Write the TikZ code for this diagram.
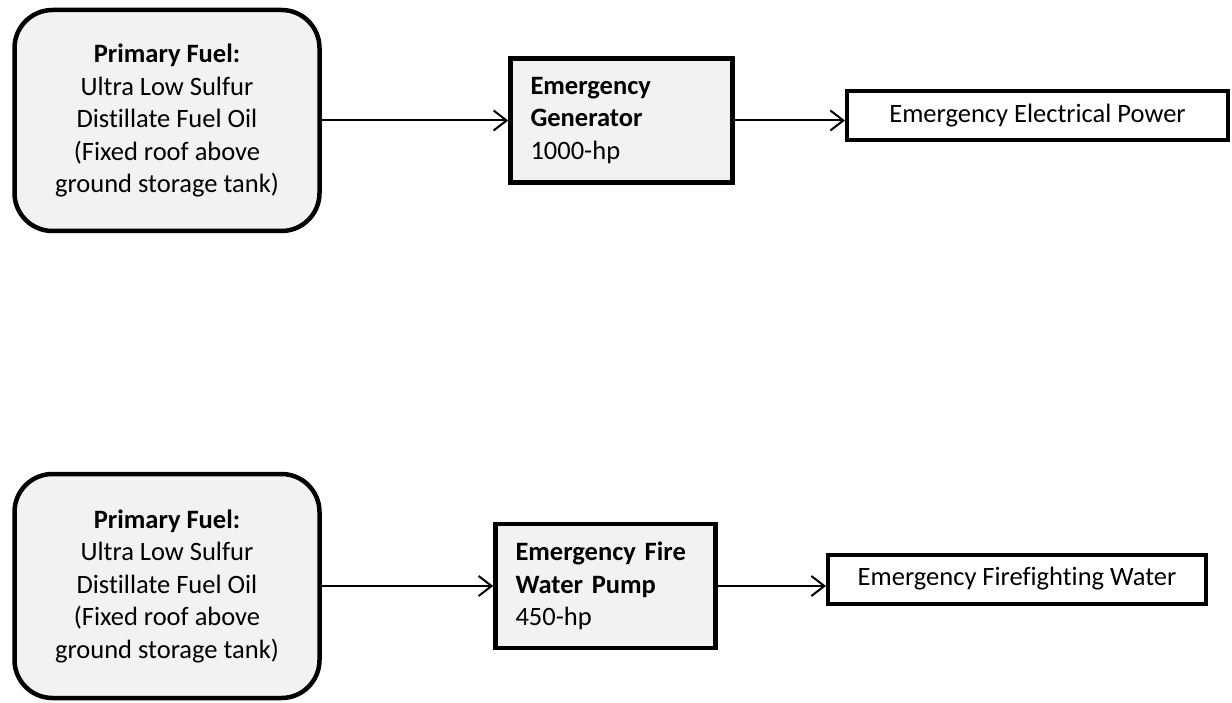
\documentclass[tikz,border=0pt]{standalone}
\usepackage{fontspec}
\setmainfont{Carlito}[Ligatures=NoCommon]
\usetikzlibrary{arrows.meta}
\definecolor{boxfill}{HTML}{F2F2F2}
\begin{document}
\begin{tikzpicture}[x=1pt,y=-1pt,
  every node/.style={font=\fontsize{26.5}{32.5}\selectfont, inner sep=0pt},
  fuelbox/.style={draw, line width=4.5pt, fill=boxfill, rounded corners=38pt,
    align=center, minimum width=305pt, minimum height=221pt},
  unitbox/.style={draw, line width=4.5pt, fill=boxfill, align=left,
    inner xsep=20pt, text width=182pt, minimum height=124pt},
  outbox/.style={draw, line width=4pt, fill=white, align=center, minimum height=49pt},
  flow/.style={line width=2pt, -{Straight Barb[length=13pt,width=20pt,line width=2pt]}}
]
\useasboundingbox (0,0) rectangle (1232,703);

% emergency generator train
\node[fuelbox] (fuelA) at (167,120.5)
  {\textbf{Primary Fuel:}\\Ultra Low Sulfur\\Distillate Fuel Oil\\(Fixed roof above\\ground storage tank)};
\node[unitbox] (gen) at (621.5,120.5)
  {\textbf{Emergency}\\\textbf{Generator}\\1000-hp};
\node[outbox, minimum width=381pt] (power) at (1037.5,115.5) {Emergency Electrical Power};

\draw[flow] (fuelA.east |- gen.west) -- (gen.west);
\draw[flow] (gen.east) -- (gen.east -| power.west);

% emergency fire water pump train
\node[fuelbox, minimum height=224pt] (fuelB) at (167,586)
  {\textbf{Primary Fuel:}\\Ultra Low Sulfur\\Distillate Fuel Oil\\(Fixed roof above\\ground storage tank)};
\node[unitbox, text width=180pt] (pump) at (605.5,586)
  {\textbf{Emergency Fire}\\\textbf{Water Pump}\\450-hp};
\node[outbox, minimum width=378pt] (water) at (1017,579) {Emergency Firefighting Water};

\draw[flow] (fuelB.east |- pump.west) -- (pump.west);
\draw[flow] (pump.east) -- (pump.east -| water.west);
\end{tikzpicture}
\end{document}
